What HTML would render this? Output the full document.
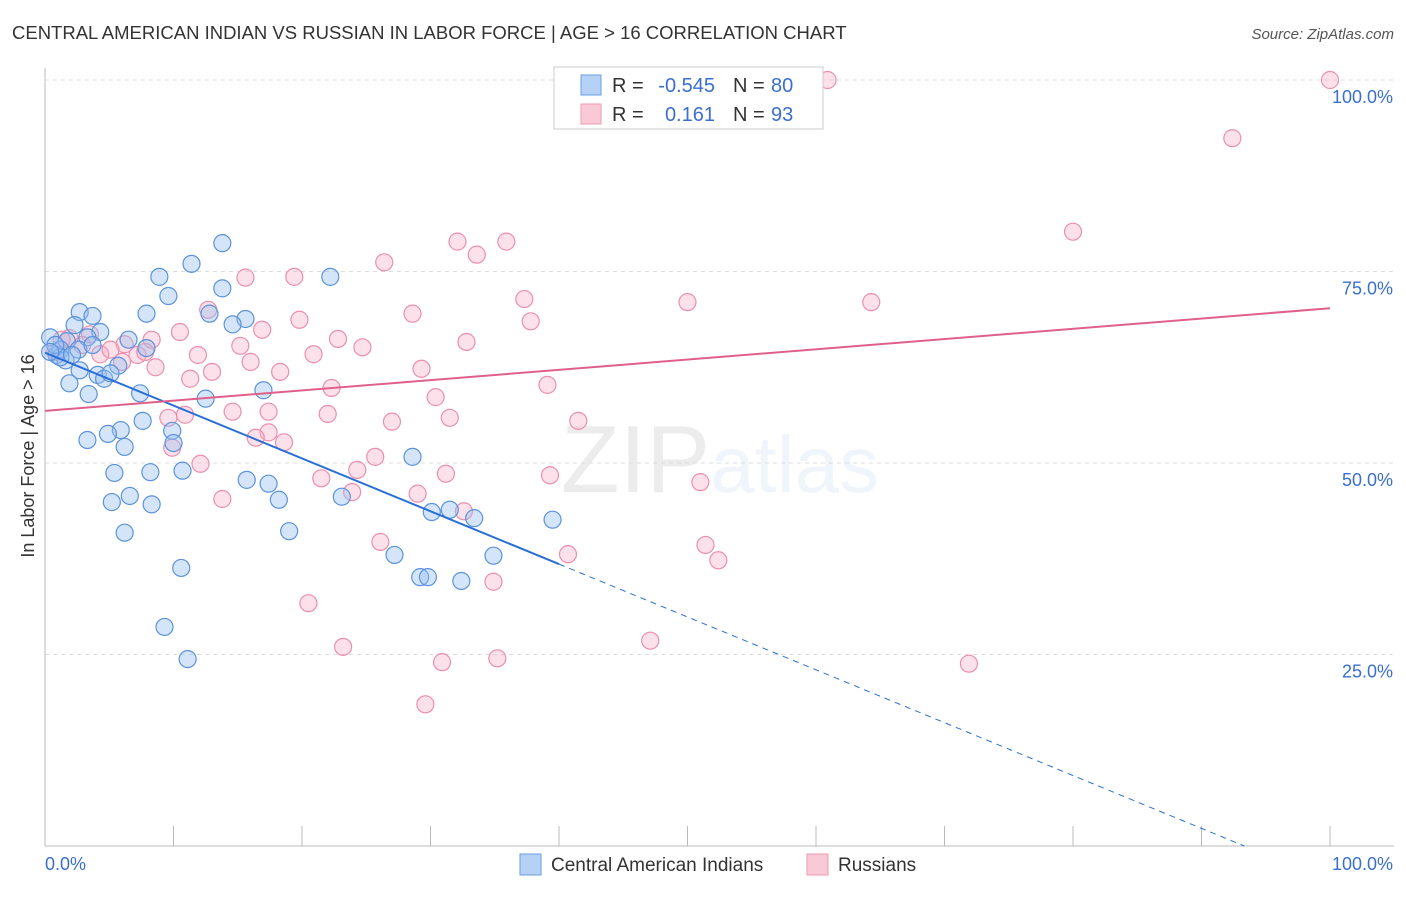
<!DOCTYPE html>
<html><head><meta charset="utf-8"><style>
body{margin:0;background:#fff;font-family:"Liberation Sans",sans-serif}
svg text{font-family:"Liberation Sans",sans-serif}
</style></head><body>
<svg id="chart" width="1406" height="892" viewBox="0 0 1406 892" xmlns="http://www.w3.org/2000/svg">
<text x="12" y="39" font-size="18.5" fill="#333">CENTRAL AMERICAN INDIAN VS RUSSIAN IN LABOR FORCE | AGE &gt; 16 CORRELATION CHART</text>
<text x="1394" y="39" font-size="15" fill="#555" font-style="italic" text-anchor="end">Source: ZipAtlas.com</text>
<text x="720" y="492" font-size="96" text-anchor="middle" fill="#000" opacity="0.07" font-family="Liberation Serif">ZIP<tspan fill="#3a7bd5" opacity="1" font-family="Liberation Sans" font-size="80">atlas</tspan></text>
<g id="grid"></g>
<g id="axes"></g>
<g id="pts"></g>
<g id="lines"></g>
<text transform="translate(34,456) rotate(-90)" font-size="18" fill="#333" text-anchor="middle">In Labor Force | Age &gt; 16</text>
<g>
<rect x="554" y="67" width="269" height="62" fill="#fff" stroke="#ccc"/>
<rect x="581" y="75" width="20" height="20" fill="#b5d1f5" stroke="#6a9ee0"/>
<rect x="581" y="104" width="20" height="20" fill="#f9c9d7" stroke="#ee9ab3"/>
<text x="612" y="92" font-size="20" fill="#333">R =</text>
<text x="715" y="92" font-size="20" fill="#3a6fd0" text-anchor="end">-0.545</text>
<text x="733" y="92" font-size="20" fill="#333">N =</text>
<text x="771" y="92" font-size="20" fill="#3a6fd0">80</text>
<text x="612" y="121" font-size="20" fill="#333">R =</text>
<text x="715" y="121" font-size="20" fill="#3a6fd0" text-anchor="end">0.161</text>
<text x="733" y="121" font-size="20" fill="#333">N =</text>
<text x="771" y="121" font-size="20" fill="#3a6fd0">93</text>
</g>
<g>
<rect x="520" y="854" width="21" height="21" fill="#b5d1f5" stroke="#6a9ee0"/>
<text x="551" y="871" font-size="19" fill="#333">Central American Indians</text>
<rect x="807" y="854" width="21" height="21" fill="#f9c9d7" stroke="#ee9ab3"/>
<text x="838" y="871" font-size="19" fill="#333">Russians</text>
</g>
</svg>
<script>
const xTicks=[0,10,20,30,40,50,60,70,80,90,100];
const yTicks=[25,50,75,100];
const yTickLabels=["25.0%","50.0%","75.0%","100.0%"];
const blueX=[13.8,8.9,11.4,22.2,9.6,13.8,2.7,7.9,3.7,12.8,15.6,14.6,2.3,4.3,3.3,6.5,1.7,7.9,0.9,0.4,1.2,1.6,2.7,5.7,4.1,4.6,1.9,3.4,7.4,17.0,12.5,7.6,9.9,5.9,4.9,3.3,6.2,10.0,8.2,10.7,5.4,15.7,17.4,6.6,5.2,8.3,18.2,23.1,28.6,30.1,31.5,33.4,39.5,6.2,19.0,27.2,34.9,10.6,29.2,29.8,32.4,9.3,11.1,5.1,1.2,0.8,2.6,3.7,2.1,0.4];
const blueY=[78.7,74.3,76.0,74.3,71.8,72.8,69.7,69.5,69.2,69.5,68.8,68.1,68.0,67.1,66.4,66.1,65.9,65.0,64.1,66.4,64.8,63.4,62.1,62.7,61.5,61.0,60.4,59.0,59.1,59.5,58.4,55.5,54.2,54.3,53.8,53.0,52.1,52.6,48.8,49.0,48.7,47.8,47.3,45.7,44.9,44.6,45.2,45.6,50.8,43.6,43.9,42.8,42.6,40.9,41.1,38.0,37.9,36.3,35.1,35.1,34.6,28.6,24.4,61.7,63.8,65.4,64.8,65.4,64.1,64.5];
const pinkX=[100,60.9,59.2,92.4,80.0,32.1,35.9,33.6,26.4,15.6,19.4,37.3,50.0,64.3,12.7,19.8,28.6,37.8,16.9,10.5,22.8,32.8,20.9,24.7,15.2,11.9,16.0,7.2,8.3,8.6,29.3,13.0,18.3,11.3,22.3,39.1,30.4,6.0,4.3,6.2,3.5,1.9,0.8,1.3,14.6,17.4,22.0,9.6,10.9,31.5,27.0,41.5,17.4,16.4,9.9,18.6,25.7,12.1,24.3,31.2,39.3,21.5,51.0,23.9,29.0,13.8,32.6,26.1,51.4,52.4,40.7,34.9,20.5,47.1,23.2,30.9,35.2,71.9,29.6,5.1,2.9,7.8];
const pinkY=[100,100,100.1,92.4,80.2,78.9,78.9,77.2,76.2,74.2,74.3,71.4,71.0,71.0,70.0,68.7,69.5,68.5,67.4,67.1,66.2,65.8,64.2,65.1,65.3,64.1,63.2,64.1,66.1,62.5,62.3,61.9,61.9,61.0,59.8,60.2,58.6,63.2,64.2,65.5,66.8,66.3,64.5,66.1,56.7,56.7,56.4,55.9,56.3,55.9,55.4,55.5,54.0,53.3,52.0,52.7,50.8,49.9,49.1,48.6,48.4,48.0,47.5,46.2,46.0,45.3,43.7,39.7,39.3,37.3,38.1,34.5,31.7,26.8,26.0,24.0,24.5,23.8,18.5,64.8,65.4,64.5];
const blueTrend=[64.4,-0.69];
const pinkTrend=[56.8,0.134];
const X0=45,X1=1330,Y0=846,Y100=80;
const sx=v=>X0+(X1-X0)*v/100;
const sy=v=>Y0-(Y0-Y100)*v/100;
const NS="http://www.w3.org/2000/svg";
function mk(tag,attrs,parent){const e=document.createElementNS(NS,tag);for(const k in attrs)e.setAttribute(k,attrs[k]);parent.appendChild(e);return e;}
const grid=document.getElementById('grid'),axes=document.getElementById('axes'),pts=document.getElementById('pts'),lines=document.getElementById('lines');
yTicks.forEach((t,i)=>{
 const l=mk('line',{x1:X0,x2:1394,y1:sy(t),y2:sy(t),stroke:'#ddd','stroke-dasharray':'4,4'},grid);
 
 
 const tx=mk('text',{x:1393,y:sy(t)+23,'font-size':18,fill:'#3a6fd0','text-anchor':'end'},axes);
 tx.textContent=yTickLabels[i];
 
 
});
const ya=mk('line',{x1:X0,x2:X0,y1:68,y2:Y0,stroke:'#bbb'},axes);


const xa=mk('line',{x1:X0,x2:1394,y1:Y0,y2:Y0,stroke:'#bbb'},axes);


xTicks.forEach(t=>{const l=mk('line',{x1:sx(t),x2:sx(t),y1:Y0,y2:Y0-20,stroke:'#bbb'},axes);
 
 });
const xl0=mk('text',{x:45,y:870,'font-size':18,fill:'#3a6fd0'},axes);xl0.textContent='0.0%';


const xl1=mk('text',{x:1393,y:870,'font-size':18,fill:'#3a6fd0','text-anchor':'end'},axes);xl1.textContent='100.0%';


pinkX.forEach((x,i)=>{const c=mk('circle',{cx:sx(x),cy:sy(pinkY[i]),r:8.5,fill:'rgba(246,170,195,0.35)',stroke:'#ec8fae','stroke-width':1.2},pts);
 
 });
blueX.forEach((x,i)=>{const c=mk('circle',{cx:sx(x),cy:sy(blueY[i]),r:8.5,fill:'rgba(150,190,240,0.4)',stroke:'#5b93dc','stroke-width':1.2},pts);
 
 });
const bf=v=>blueTrend[0]+blueTrend[1]*v;
const pf=v=>pinkTrend[0]+pinkTrend[1]*v;
const zx=-blueTrend[0]/blueTrend[1];
const b1=mk('line',{x1:sx(0),y1:sy(bf(0)),x2:sx(40),y2:sy(bf(40)),stroke:'#2a6fd6','stroke-width':2},lines);


const b2=mk('line',{x1:sx(40),y1:sy(bf(40)),x2:sx(zx),y2:sy(0),stroke:'#2a6fd6','stroke-width':1,'stroke-dasharray':'6,5'},lines);


const p1=mk('line',{x1:sx(0),y1:sy(pf(0)),x2:sx(100),y2:sy(pf(100)),stroke:'#e0608a','stroke-width':2},lines);


</script>
</body></html>
